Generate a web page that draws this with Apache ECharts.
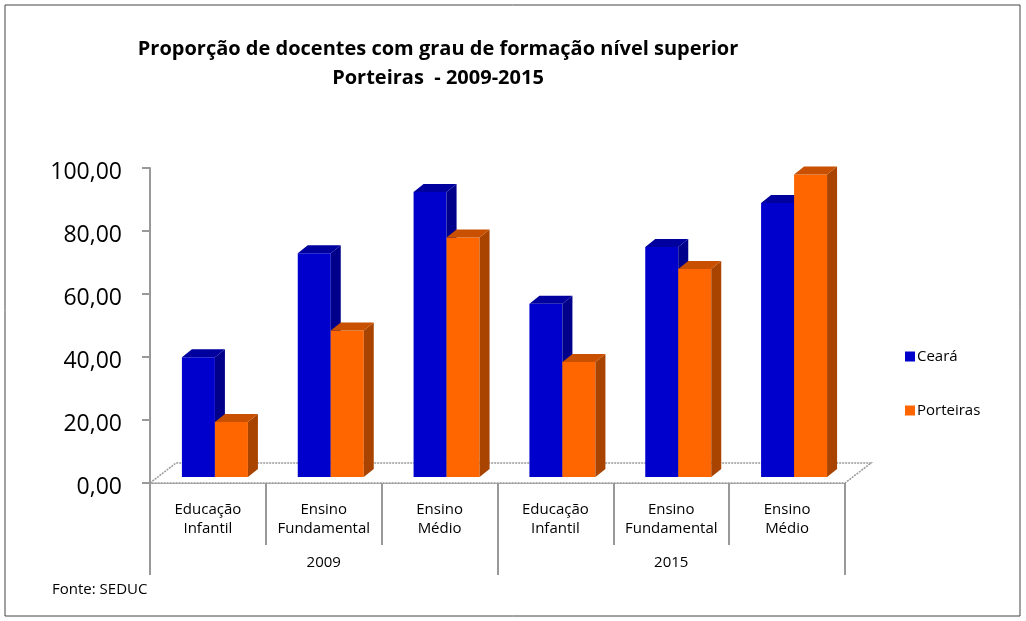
<!DOCTYPE html>
<html><head><meta charset="utf-8">
<script src="https://cdn.jsdelivr.net/npm/echarts@6/dist/echarts.min.js"></script>
<style>html,body{margin:0;padding:0;background:#fff}#c{width:1026px;height:621px}</style>
</head><body><div id="c"></div>
<script>
const categories = ['Educação\nInfantil','Ensino\nFundamental','Ensino\nMédio','Educação\nInfantil','Ensino\nFundamental','Ensino\nMédio'];
const years = ['2009','2015'];
const ceara = [38, 71, 90.5, 55, 73, 87];
const porteiras = [17.5, 46.5, 76, 36.5, 66, 96];
const seriesNames = ['Ceará','Porteiras'];
const FONT = '"Open Sans", Lato, sans-serif';

const chart = echarts.init(document.getElementById('c'));
const colors = [
  {front:'#0000CC', side:'#00008A', top:'#00009E'},
  {front:'#FF6600', side:'#A84300', top:'#C85000'}
];
const DX = 10, DY = 8, BW = 33, SHIFT_Y = 6;

function barRender(idx){
  return function(params, api){
    const c = colors[idx];
    const i = api.value(0);
    const center = api.coord([i, 0])[0];
    const base = api.coord([i, 0])[1] - SHIFT_Y;
    const top = api.coord([i, api.value(1)])[1] - SHIFT_Y;
    const x = center - 26 + idx*BW;
    const w = BW;
    return {type:'group', children:[
      {type:'rect', shape:{x:x, y:top, width:w, height:base-top}, style:{fill:c.front}},
      {type:'polygon', shape:{points:[[x+w,top],[x+w+DX,top-DY],[x+w+DX,base-DY],[x+w,base]]}, style:{fill:c.side}},
      {type:'polygon', shape:{points:[[x,top],[x+DX,top-DY],[x+w+DX,top-DY],[x+w,top]]}, style:{fill:c.top}}
    ]};
  };
}
function floorRender(params, api){
  const cs = params.coordSys;
  const x0 = cs.x, x1 = cs.x + cs.width, y = cs.y + cs.height;
  const ox = 26, oy = 20;
  return {type:'group', children:[
    {type:'polygon', shape:{points:[[x0,y],[x0+ox,y-oy],[x1+ox,y-oy],[x1,y]]}, style:{fill:'#fff', stroke:'#999', lineWidth:1.5, lineDash:[2,1]}}
  ]};
}

const option = {
  animation:false,
  backgroundColor:'#fff',
  title:{
    text:'Proporção de docentes com grau de formação nível superior\nPorteiras  - 2009-2015',
    left:433, top:30, textAlign:'center',
    textStyle:{fontFamily:FONT, fontWeight:'bold', fontSize:20, lineHeight:29, color:'#000'}
  },
  legend:{
    orient:'vertical', left:900, top:344, itemGap:39,
    itemWidth:10, itemHeight:10, icon:'rect',
    textStyle:{fontFamily:FONT, fontSize:15, color:'#000', padding:[0,0,0,-3]},
    data:seriesNames
  },
  grid:{left:150, right:181, top:168, bottom:138},
  xAxis:[
    {type:'category', data:categories, position:'bottom', offset:0,
     axisLine:{show:true, lineStyle:{color:'#999', width:1.5, type:[2,1]}},
     axisTick:{show:true, length:62, lineStyle:{color:'#999', width:2}},
     axisLabel:{margin:17, fontFamily:FONT, fontSize:15, lineHeight:19, color:'#000', interval:0}},
    {type:'category', data:years, position:'bottom', offset:0, gridIndex:0,
     axisLine:{show:false},
     axisTick:{show:true, length:92, lineStyle:{color:'#999', width:2}},
     axisLabel:{margin:72, fontFamily:FONT, fontSize:15, color:'#000', interval:0}}
  ],
  yAxis:{type:'value', min:0, max:100, interval:20,
    axisLine:{show:true, lineStyle:{color:'#999', width:2}},
    axisTick:{show:true, length:8, lineStyle:{color:'#999', width:2}},
    splitLine:{show:false},
    axisLabel:{margin:28, color:'#000',
      formatter:v=>'{a|'+v.toFixed(2).replace('.',',')+'}',
      rich:{a:{fontFamily:FONT, fontSize:23, color:'#000', padding:[8,0,0,0]}}
    }
  },
  graphic:[
    {type:'rect', shape:{x:5, y:5, width:1015, height:611}, style:{fill:null, stroke:'#444', lineWidth:1}, z:-1},
    {type:'text', left:52, top:582, style:{text:'Fonte: SEDUC', font:'15px '+FONT, fill:'#000'}}
  ],
  series:[
    {type:'custom', name:'floor', xAxisIndex:0, renderItem:floorRender, data:[[0,0]], silent:true, z:1},
    {type:'custom', name:'Ceará', xAxisIndex:0, itemStyle:{color:'#0000CC'}, renderItem:barRender(0),
     data:ceara.map((v,i)=>[i,v]), z:2},
    {type:'custom', name:'Porteiras', xAxisIndex:0, itemStyle:{color:'#FF6600'}, renderItem:barRender(1),
     data:porteiras.map((v,i)=>[i,v]), z:2}
  ]
};
chart.setOption(option);
</script></body></html>
